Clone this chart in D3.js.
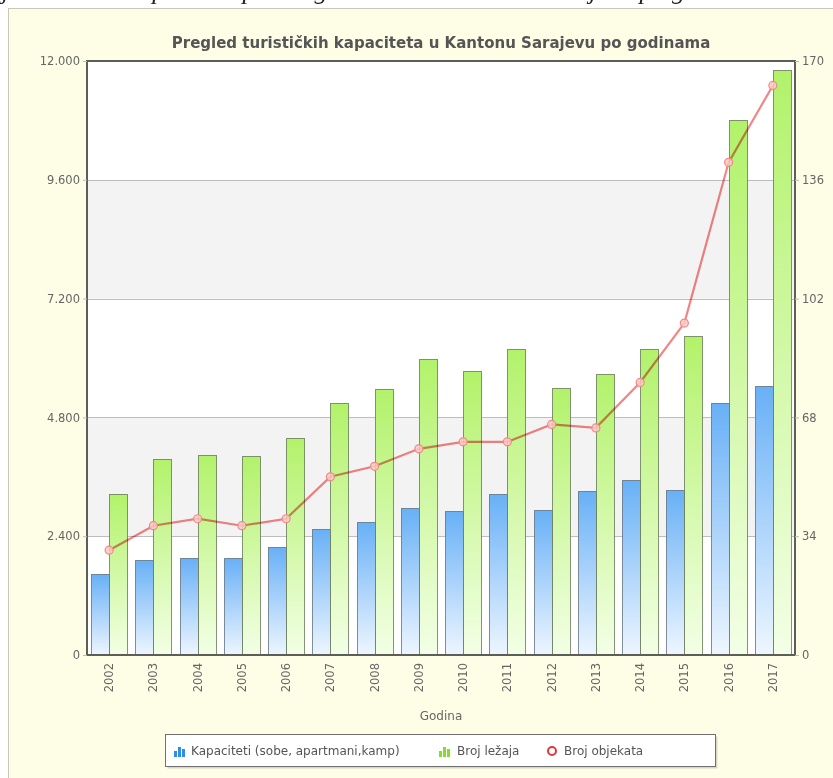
<!DOCTYPE html>
<html>
<head>
<meta charset="utf-8">
<script src="https://cdn.jsdelivr.net/npm/d3@7"></script>
<style>
  body { margin: 0; background: #fff; }
  svg { display: block; font-family: "DejaVu Sans", Verdana, sans-serif; }
</style>
</head>
<body>
<div id="vis"></div>
<script>
const width = 833;
const height = 778;

const years = ['2002', '2003', '2004', '2005', '2006', '2007', '2008', '2009',
  '2010', '2011', '2012', '2013', '2014', '2015', '2016', '2017'];
const kapaciteti = [1630, 1920, 1965, 1960, 2175, 2545, 2680, 2965,
  2910, 3250, 2930, 3310, 3535, 3335, 5090, 5430];
const brojLezaja = [3250, 3960, 4035, 4015, 4375, 5090, 5375, 5980,
  5745, 6185, 5400, 5670, 6185, 6450, 10800, 11825];
const brojObjekata = [30, 37, 39, 37, 39, 51, 54, 59,
  61, 61, 66, 65, 78, 95, 141, 163];
const leftTicks = [0, 2400, 4800, 7200, 9600, 12000];
const rightTicks = [0, 34, 68, 102, 136, 170];

const margin = { left: 87, right: 833 - 795, top: 61, bottom: 778 - 655 };
const plotW = width - margin.left - margin.right;
const plotH = height - margin.top - margin.bottom;

const locale = d3.formatLocale({ decimal: ',', thousands: '.', grouping: [3], currency: ['', ''] });
const fmt = locale.format(',');

const svg = d3.select('#vis').append('svg')
  .attr('width', width)
  .attr('height', height);

// caption of the document, cut off at the top as in the source page
svg.append('text')
  .attr('x', 2)
  .attr('y', -1)
  .style('font-family', '"Liberation Serif", serif')
  .style('font-style', 'italic')
  .style('font-size', '26px')
  .attr('fill', '#222')
  .text('j turističkih kapaciteta prema godinama u Kantonu Sarajevu po godinama');

// yellow frame
svg.append('rect')
  .attr('x', 8.5)
  .attr('y', 8.5)
  .attr('width', width)
  .attr('height', height)
  .attr('fill', '#fefee6')
  .attr('stroke', '#c8c8b8');

const defs = svg.append('defs');
function gradient(id, top, bottom) {
  const g = defs.append('linearGradient')
    .attr('id', id)
    .attr('x1', 0).attr('y1', 0).attr('x2', 0).attr('y2', 1);
  g.append('stop').attr('offset', '0%').attr('stop-color', top);
  g.append('stop').attr('offset', '100%').attr('stop-color', bottom);
}
gradient('blueGrad', '#68b0f6', '#eef6ff');
gradient('greenGrad', '#b2f26a', '#f3ffe6');

const x = d3.scaleBand()
  .domain(years)
  .range([margin.left, margin.left + plotW]);
const yLeft = d3.scaleLinear()
  .domain([0, 12000])
  .range([margin.top + plotH, margin.top]);
const yRight = d3.scaleLinear()
  .domain([0, 170])
  .range([margin.top + plotH, margin.top]);

const barW = 18;

// plot background and bands
svg.append('rect')
  .attr('x', margin.left)
  .attr('y', margin.top)
  .attr('width', plotW)
  .attr('height', plotH)
  .attr('fill', '#fff');
[[2400, 4800], [7200, 9600]].forEach(b => {
  svg.append('rect')
    .attr('x', margin.left)
    .attr('y', yLeft(b[1]))
    .attr('width', plotW)
    .attr('height', yLeft(b[0]) - yLeft(b[1]))
    .attr('fill', '#f3f3f3');
});
svg.selectAll('line.grid')
  .data(leftTicks.slice(1, -1))
  .enter().append('line')
  .attr('class', 'grid')
  .attr('x1', margin.left)
  .attr('x2', margin.left + plotW)
  .attr('y1', d => Math.round(yLeft(d)) + 0.5)
  .attr('y2', d => Math.round(yLeft(d)) + 0.5)
  .attr('stroke', '#bdbdbd');

// bars
svg.selectAll('rect.kap')
  .data(kapaciteti)
  .enter().append('rect')
  .attr('class', 'kap')
  .attr('x', (d, i) => Math.round(x(years[i]) + x.bandwidth() / 2 - barW) + 0.5)
  .attr('y', d => Math.round(yLeft(d)) + 0.5)
  .attr('width', barW)
  .attr('height', d => yLeft(0) - Math.round(yLeft(d)))
  .attr('fill', 'url(#blueGrad)')
  .attr('stroke', '#5a6a78')
  .attr('stroke-opacity', 0.75);
svg.selectAll('rect.lez')
  .data(brojLezaja)
  .enter().append('rect')
  .attr('class', 'lez')
  .attr('x', (d, i) => Math.round(x(years[i]) + x.bandwidth() / 2) + 0.5)
  .attr('y', d => Math.round(yLeft(d)) + 0.5)
  .attr('width', barW)
  .attr('height', d => yLeft(0) - Math.round(yLeft(d)))
  .attr('fill', 'url(#greenGrad)')
  .attr('stroke', '#5f7050')
  .attr('stroke-opacity', 0.75);

// line, multiplied over the bars (orange tint where it crosses green)
const line = d3.line()
  .x((d, i) => x(years[i]) + x.bandwidth() / 2)
  .y(d => yRight(d));
svg.append('path')
  .datum(brojObjekata)
  .attr('d', line)
  .attr('fill', 'none')
  .attr('stroke', '#f48484')
  .attr('stroke-width', 2.2)
  .style('mix-blend-mode', 'multiply');
svg.selectAll('circle.pt')
  .data(brojObjekata)
  .enter().append('circle')
  .attr('class', 'pt')
  .attr('cx', (d, i) => x(years[i]) + x.bandwidth() / 2)
  .attr('cy', d => yRight(d))
  .attr('r', 4)
  .attr('fill', '#fccac4')
  .attr('fill-opacity', 0.85)
  .attr('stroke', '#f08888')
  .attr('stroke-width', 1.2);

// plot frame
svg.append('rect')
  .attr('x', margin.left)
  .attr('y', margin.top)
  .attr('width', plotW)
  .attr('height', plotH)
  .attr('fill', 'none')
  .attr('stroke', '#5e5e58')
  .attr('stroke-width', 2);

// axes
const axisLeft = d3.axisLeft(yLeft)
  .tickValues(leftTicks)
  .tickFormat(fmt)
  .tickSize(4)
  .tickPadding(3);
const gl = svg.append('g')
  .attr('transform', `translate(${margin.left},0)`)
  .call(axisLeft);
const axisRight = d3.axisRight(yRight)
  .tickValues(rightTicks)
  .tickSize(4)
  .tickPadding(3);
const gr = svg.append('g')
  .attr('transform', `translate(${margin.left + plotW},0)`)
  .call(axisRight);
const axisBottom = d3.axisBottom(x).tickSize(0).tickPadding(8);
const gb = svg.append('g')
  .attr('transform', `translate(0,${margin.top + plotH})`)
  .call(axisBottom);
gb.selectAll('text')
  .attr('transform', 'rotate(-90)')
  .attr('x', -8)
  .attr('y', 0)
  .attr('dy', '0.35em')
  .style('text-anchor', 'end');
[gl, gr, gb].forEach(g => {
  g.select('.domain').remove();
  g.selectAll('line').attr('stroke', '#bbb');
  g.selectAll('text')
    .attr('fill', '#666')
    .style('font-size', '11.5px')
    .style('font-family', '"DejaVu Sans", sans-serif');
});

// title
svg.append('text')
  .attr('x', 441)
  .attr('y', 48)
  .attr('text-anchor', 'middle')
  .attr('fill', '#555')
  .style('font-size', '15px')
  .style('font-weight', 'bold')
  .text('Pregled turističkih kapaciteta u Kantonu Sarajevu po godinama');

// x axis title
svg.append('text')
  .attr('x', 441)
  .attr('y', 720)
  .attr('text-anchor', 'middle')
  .attr('fill', '#666')
  .style('font-size', '12px')
  .text('Godina');

// legend
const legend = svg.append('g');
legend.append('rect')
  .attr('x', 167.5).attr('y', 736.5)
  .attr('width', 550).attr('height', 32)
  .attr('fill', '#d8d8c8');
legend.append('rect')
  .attr('x', 165.5).attr('y', 734.5)
  .attr('width', 550).attr('height', 32)
  .attr('fill', '#fff')
  .attr('stroke', '#707070');

function barIcon(x0, color) {
  [[0, 6], [4, 10], [8, 8]].forEach(b => {
    legend.append('rect')
      .attr('x', x0 + b[0]).attr('y', 757 - b[1])
      .attr('width', 3).attr('height', b[1])
      .attr('fill', color);
  });
}
barIcon(174, '#2f8fe8');
barIcon(439, '#86dc2a');
legend.append('circle')
  .attr('cx', 552).attr('cy', 751).attr('r', 4)
  .attr('fill', '#fff').attr('stroke', '#e03838').attr('stroke-width', 2);

const legendItems = [
  { x: 191, label: 'Kapaciteti (sobe, apartmani,kamp)' },
  { x: 457, label: 'Broj ležaja' },
  { x: 564, label: 'Broj objekata' }
];
legend.selectAll('text')
  .data(legendItems)
  .enter().append('text')
  .attr('x', d => d.x)
  .attr('y', 755)
  .attr('fill', '#555')
  .style('font-size', '12px')
  .text(d => d.label);
</script>
</body>
</html>
